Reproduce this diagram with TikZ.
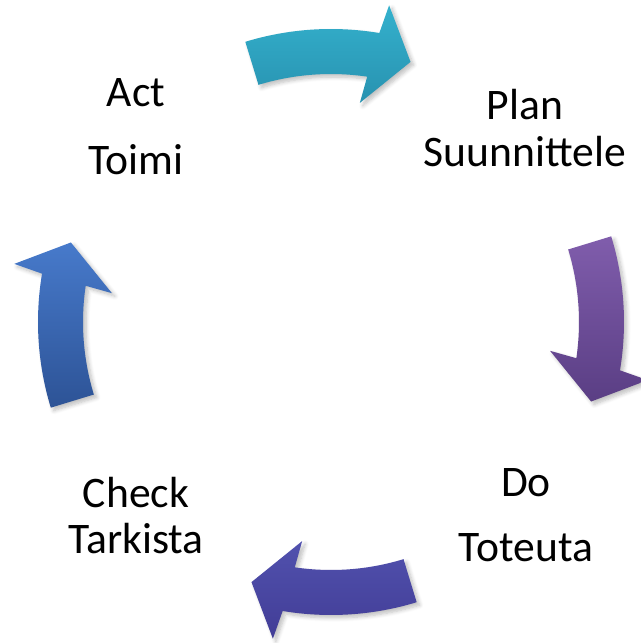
\documentclass[tikz,border=0pt]{standalone}
\usepackage{fontspec}
\setmainfont{Carlito}
\usetikzlibrary{shapes,arrows,shadows.blur}

\begin{document}
\begin{tikzpicture}[x=0.5pt, y=0.5pt]

    % Define styles
    \tikzstyle{phase} = [align=center, inner sep=0pt, anchor=base,
        font=\fontsize{21.8}{23.5}\selectfont]
    \tikzstyle{cyclearrow} = [blur shadow={shadow xshift=1.5pt, shadow yshift=-1.5pt,
        shadow blur steps=6, shadow opacity=25}]
    \tikzstyle{planarrow} = [cyclearrow, top color={rgb,255:red,52;green,177;blue,205},
        bottom color={rgb,255:red,40;green,146;blue,176}]
    \tikzstyle{doarrow} = [cyclearrow, top color={rgb,255:red,128;green,93;blue,172},
        bottom color={rgb,255:red,90;green,62;blue,132}]
    \tikzstyle{checkarrow} = [cyclearrow, top color={rgb,255:red,81;green,81;blue,174},
        bottom color={rgb,255:red,66;green,61;blue,150}]
    \tikzstyle{actarrow} = [cyclearrow, top color={rgb,255:red,71;green,122;blue,203},
        bottom color={rgb,255:red,45;green,83;blue,150}]

    \useasboundingbox (0,0) rectangle (641,643);

    % Place nodes (base is the last line)
    \node [phase] (act) at (136,468) {Act\\[10.5pt]Toimi};
    \node [phase] (plan) at (525,476) {Plan\\Suunnittele};
    \node [phase] (do) at (526,81) {Do\\[9pt]Toteuta};
    \node [phase] (check) at (136,89) {Check\\Tarkista};

    % Draw curved arrows round the cycle
    \begin{scope}[shift={(331,321)}]
    \path [planarrow] (107:293) arc [start angle=107, end angle=80.5, radius=293]
        -- (79.6:322) -- (73:272) -- (82.5:221) -- (81.6:248)
        arc [start angle=81.6, end angle=107, radius=248] -- cycle;
    \path [doarrow] (17:293) arc [start angle=17, end angle=-9.5, radius=293]
        -- (-10.4:322) -- (-17:272) -- (-7.5:221) -- (-8.4:248)
        arc [start angle=-8.4, end angle=17, radius=248] -- cycle;
    \path [checkarrow] (-73:293) arc [start angle=-73, end angle=-99.5, radius=293]
        -- (-100.4:322) -- (-107:272) -- (-97.5:221) -- (-98.4:248)
        arc [start angle=-98.4, end angle=-73, radius=248] -- cycle;
    \path [actarrow] (197:293) arc [start angle=197, end angle=170.5, radius=293]
        -- (169.6:322) -- (163:272) -- (172.5:221) -- (171.6:248)
        arc [start angle=171.6, end angle=197, radius=248] -- cycle;
    \end{scope}

\end{tikzpicture}
\end{document}
